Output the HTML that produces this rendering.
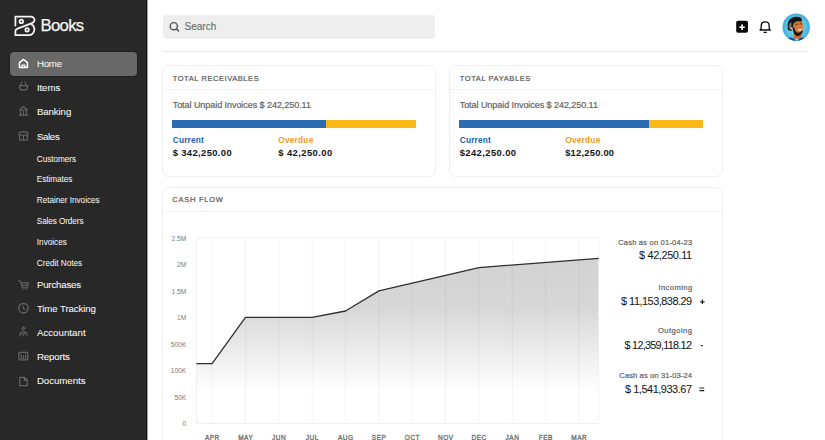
<!DOCTYPE html>
<html><head><meta charset="utf-8"><title>Books</title>
<style>
html,body{margin:0;padding:0;}
body{width:825px;height:440px;overflow:hidden;position:relative;background:#ffffff;font-family:"Liberation Sans",sans-serif;}
.t{position:absolute;white-space:nowrap;}
svg{overflow:visible}
</style></head><body>
<div style="position:absolute;left:0;top:0;width:147px;height:440px;background:#282828;"></div>
<div style="position:absolute;left:146px;top:0;width:1px;height:440px;background:#121212;"></div>
<div style="position:absolute;left:147px;top:0;width:1px;height:440px;background:#a0a0a0;"></div>
<svg style="position:absolute;left:0;top:0" width="147" height="50" viewBox="0 0 147 50">
<g fill="none" stroke="#f6f6f6" stroke-width="1.75" stroke-linecap="round" stroke-linejoin="round">
<path d="M15.4,25.6 L15.4,16.6 L30.6,16.6 C33.0,16.6 34.5,18.3 34.5,20.0 C34.5,21.5 33.6,22.5 32.0,23.1 L17.6,28.6 C16.2,29.1 15.4,30.0 15.4,31.2 L15.4,35.2 L28.6,35.2 C31.9,35.2 34.4,32.6 34.4,29.6 C34.4,27.3 33.3,25.3 31.4,24.3"/>
<circle cx="21.3" cy="21.4" r="1.75"/>
<circle cx="27.1" cy="29.8" r="1.75"/>
</g></svg>
<div class="t" style="left:40.60px;top:18.00px;font-size:16.72px;line-height:16.72px;color:#f4f4f4;letter-spacing:-0.714px;-webkit-text-stroke:0.25px #f4f4f4;">Books</div>
<div style="position:absolute;left:10px;top:52px;width:127px;height:24px;background:#686868;border-radius:4px;box-shadow:0 0 0 1px #1f1f1f;"></div>
<div class="t" style="left:36.90px;top:59.00px;font-size:9.70px;line-height:9.70px;color:#f4f4f4;letter-spacing:-0.212px;-webkit-text-stroke:0.08px #f4f4f4;">Home</div>
<div class="t" style="left:36.90px;top:83.00px;font-size:9.70px;line-height:9.70px;color:#f4f4f4;letter-spacing:-0.077px;-webkit-text-stroke:0.08px #f4f4f4;">Items</div>
<div class="t" style="left:36.90px;top:107.00px;font-size:9.70px;line-height:9.70px;color:#f4f4f4;letter-spacing:-0.104px;-webkit-text-stroke:0.08px #f4f4f4;">Banking</div>
<div class="t" style="left:36.90px;top:132.00px;font-size:9.70px;line-height:9.70px;color:#f4f4f4;letter-spacing:-0.345px;-webkit-text-stroke:0.08px #f4f4f4;">Sales</div>
<div class="t" style="left:36.90px;top:280.00px;font-size:9.70px;line-height:9.70px;color:#f4f4f4;letter-spacing:-0.195px;-webkit-text-stroke:0.08px #f4f4f4;">Purchases</div>
<div class="t" style="left:36.90px;top:304.00px;font-size:9.70px;line-height:9.70px;color:#f4f4f4;letter-spacing:-0.114px;-webkit-text-stroke:0.08px #f4f4f4;">Time Tracking</div>
<div class="t" style="left:36.90px;top:328.00px;font-size:9.70px;line-height:9.70px;color:#f4f4f4;letter-spacing:0.026px;-webkit-text-stroke:0.08px #f4f4f4;">Accountant</div>
<div class="t" style="left:36.90px;top:352.00px;font-size:9.70px;line-height:9.70px;color:#f4f4f4;letter-spacing:-0.147px;-webkit-text-stroke:0.08px #f4f4f4;">Reports</div>
<div class="t" style="left:36.90px;top:376.00px;font-size:9.70px;line-height:9.70px;color:#f4f4f4;letter-spacing:-0.041px;-webkit-text-stroke:0.08px #f4f4f4;">Documents</div>
<div class="t" style="left:36.80px;top:156.00px;font-size:8.20px;line-height:8.20px;color:#f0f0f0;letter-spacing:-0.028px;-webkit-text-stroke:0.05px #f0f0f0;">Customers</div>
<div class="t" style="left:36.80px;top:176.00px;font-size:8.20px;line-height:8.20px;color:#f0f0f0;letter-spacing:-0.037px;-webkit-text-stroke:0.05px #f0f0f0;">Estimates</div>
<div class="t" style="left:36.80px;top:197.00px;font-size:8.20px;line-height:8.20px;color:#f0f0f0;letter-spacing:-0.027px;-webkit-text-stroke:0.05px #f0f0f0;">Retainer Invoices</div>
<div class="t" style="left:36.80px;top:218.00px;font-size:8.20px;line-height:8.20px;color:#f0f0f0;letter-spacing:-0.098px;-webkit-text-stroke:0.05px #f0f0f0;">Sales Orders</div>
<div class="t" style="left:36.80px;top:239.00px;font-size:8.20px;line-height:8.20px;color:#f0f0f0;-webkit-text-stroke:0.05px #f0f0f0;">Invoices</div>
<div class="t" style="left:36.80px;top:260.00px;font-size:8.20px;line-height:8.20px;color:#f0f0f0;letter-spacing:-0.017px;-webkit-text-stroke:0.05px #f0f0f0;">Credit Notes</div>
<svg style="position:absolute;left:0;top:0" width="147" height="440" viewBox="0 0 147 440">
<g fill="none" stroke-linecap="round" stroke-linejoin="round">
<path d="M19.45,67.6 L19.45,62.6 L23.45,59.4 L27.45,62.6 L27.45,67.6 Z" stroke="#ffffff" stroke-width="1.5"/>
<path d="M22.1,67.6 L22.1,65.1 L24.8,65.1 L24.8,67.6" stroke="#ffffff" stroke-width="1.4"/>
<path d="M21.7,82.1 L20.7,84.9 M25.2,82.1 L26.2,84.9" stroke="#636363" stroke-width="1.25"/>
<path d="M19.4,85.7 L27.8,85.7 L26.6,89.8 L20.6,89.8 Z" stroke="#636363" stroke-width="1.25"/>
<path d="M19.5,110 L23.45,106.5 L27.4,110 Z" stroke="#636363" stroke-width="1.2"/>
<path d="M20.5,110.8 L20.5,114.6 M23.45,110.8 L23.45,114.6 M26.4,110.8 L26.4,114.6 M19.4,115.2 L27.5,115.2" stroke="#636363" stroke-width="1.2"/>
<path d="M19.9,131.9 L27.0,131.9 L28.3,134.4 Q26.9,135.9 25.45,134.7 Q23.45,136.1 21.45,134.7 Q20.0,135.9 18.6,134.4 Z" stroke="#636363" stroke-width="1.15"/>
<path d="M19.6,135.6 L19.6,140.1 L27.3,140.1 L27.3,135.6 M23.45,136.0 L23.45,140.1" stroke="#636363" stroke-width="1.15"/>
<path d="M18.6,280.7 L20.3,281.1 L22.5,287.9 L27.1,287.9 L28.5,282.9 L21.1,282.9 M21.9,285.4 L27.8,285.4" stroke="#636363" stroke-width="1.15"/>
<circle cx="23.1" cy="289.6" r="0.55" fill="#636363" stroke="none"/>
<circle cx="26.6" cy="289.6" r="0.55" fill="#636363" stroke="none"/>
<circle cx="23.45" cy="308.2" r="4.75" stroke="#636363" stroke-width="1.35"/>
<path d="M23.35,306.3 L23.45,308.5 L24.9,309.3" stroke="#636363" stroke-width="1.15"/>
<path d="M23.45,326.9 L24.95,328.4 L23.45,329.9 L21.95,328.4 Z" stroke="#636363" stroke-width="1.2"/>
<path d="M19.9,336 Q19.9,331.5 23.45,331.5 Q27.0,331.5 27.0,336 M22.3,333.3 L23.45,335.2 L24.7,333.0" stroke="#636363" stroke-width="1.2"/>
<rect x="18.85" y="352.45" width="9" height="7.4" rx="1" stroke="#636363" stroke-width="1.3"/>
<path d="M21.3,354.3 L21.3,358.9 M23.45,355.6 L23.45,358.9 M25.6,354.6 L25.6,358.9" stroke="#636363" stroke-width="1.1"/>
<path d="M19.75,377.4 L24.6,377.4 L27.35,380.2 L27.35,385.65 L19.75,385.65 Z M24.4,377.6 L24.4,380.4 L27.2,380.4" stroke="#636363" stroke-width="1.3"/>
</g></svg>
<div style="position:absolute;left:163px;top:15px;width:272px;height:24px;background:#eeeeee;border-radius:4px;"></div>
<svg style="position:absolute;left:0;top:0" width="825" height="60" viewBox="0 0 825 60">
<g fill="none" stroke="#555" stroke-linecap="round">
<circle cx="173.8" cy="26.2" r="3.6" stroke-width="1.4"/>
<path d="M176.5,28.9 L178.6,31" stroke-width="1.5"/>
</g>
<rect x="736.2" y="20.8" width="11.8" height="12" rx="1.8" fill="#0b0b0b"/>
<path d="M742.1,24.5 L742.1,30.0 M739.3,27.25 L744.8,27.25" stroke="#fff" stroke-width="1.7"/>
<g fill="none" stroke="#0b0b0b" stroke-width="1.3" stroke-linecap="round" stroke-linejoin="round">
<path d="M760.0,30.0 Q761.2,29.4 761.2,28.0 L761.2,25.9 Q761.2,21.9 765.2,21.9 Q769.2,21.9 769.2,25.9 L769.2,28.0 Q769.2,29.4 770.4,30.0 Z"/>
<path d="M764.0,32.3 L766.3,32.3" stroke-width="1.2"/>
</g>
</svg>
<div class="t" style="left:184.60px;top:22.00px;font-size:10.00px;line-height:10.00px;color:#6e6e6e;letter-spacing:-0.017px;-webkit-text-stroke:0.15px #6e6e6e;">Search</div>
<div style="position:absolute;left:162px;top:51px;width:646px;height:1px;background:#ececec;"></div>
<svg style="position:absolute;left:780px;top:11px" width="32" height="32" viewBox="0 0 32 32">
<defs><clipPath id="cc"><circle cx="16.2" cy="16.2" r="13.6"/></clipPath>
<radialGradient id="av" cx="0.5" cy="0.5" r="0.5"><stop offset="0" stop-color="#8ad8ee"/><stop offset="0.7" stop-color="#5cc3e4"/><stop offset="1" stop-color="#3eaed9"/></radialGradient></defs>
<circle cx="16.2" cy="16.2" r="13.7" fill="url(#av)"/>
<g clip-path="url(#cc)">
<path d="M3,32 Q5,27.6 10.5,26.4 Q16,28.4 21.5,26.4 Q27,27.6 29,32 Z" fill="#1a4f7d"/>
<path d="M13.4,26.6 L16.6,30.6 L19.8,26.8 Z" fill="#8fd3ec"/>
<path d="M13.8,21 L13.8,27.2 Q17,28.6 21.2,26.8 L21.2,21 Z" fill="#c96a30"/>
<path d="M12.6,14 Q12.8,9.4 17.6,9.2 Q22.8,9.4 23,15 Q23,21.5 20.8,23.8 Q18,25.4 15.4,24.2 Q12.6,21.5 12.6,14 Z" fill="#d27a3e"/>
<path d="M15.2,13.6 Q16.4,12.8 17.6,13.4 M19.6,13.0 Q20.8,12.4 21.8,13.0" stroke="#3a1e10" stroke-width="0.9" fill="none"/>
<path d="M12.8,16.5 Q13,23.6 17,24.9 Q21,25.4 22.8,20.5 L22.2,19.2 Q21,21.6 18.5,21.8 Q15,21.6 14.2,16.2 Z" fill="#1e1410"/>
<path d="M17.2,18.5 Q19.8,20.6 22.3,18.3 L21.9,17.5 Q19.6,18.7 17.2,18.5 Z" fill="#fafafa"/>
<path d="M8,19 Q6.8,12 9.5,8.6 Q12.5,5.4 16.8,5.8 Q20.8,5.6 21.8,8 Q22.5,10.6 21.2,10.6 Q17.6,9.6 14.8,11.2 Q13,12.6 12.8,16.4 L11.8,20 Z" fill="#171717"/>
<path d="M8.8,17 Q8.4,13 10.4,11.2 L11.8,12.4 Q10.8,14.8 11.2,18 Z" fill="#6a6a6a"/>
<ellipse cx="11.4" cy="17.4" rx="1.2" ry="1.7" fill="#e39a62"/>
</g></svg>
<div style="position:absolute;left:162.0px;top:65.0px;width:274.0px;height:111.5px;border:1px solid #efefef;border-radius:7px;box-sizing:border-box;background:#fff;"></div>
<div style="position:absolute;left:449.0px;top:65.0px;width:274.0px;height:111.5px;border:1px solid #efefef;border-radius:7px;box-sizing:border-box;background:#fff;"></div>
<div style="position:absolute;left:162.0px;top:186.5px;width:561.0px;height:300.0px;border:1px solid #efefef;border-radius:7px;box-sizing:border-box;background:#fff;"></div>
<div style="position:absolute;left:163px;top:89px;width:272px;height:1px;background:#f2f2f2;"></div>
<div style="position:absolute;left:450px;top:89px;width:272px;height:1px;background:#f2f2f2;"></div>
<div style="position:absolute;left:163px;top:211px;width:559px;height:1px;background:#f2f2f2;"></div>
<div class="t" style="left:172.70px;top:75.00px;font-size:7.50px;line-height:7.50px;color:#555555;letter-spacing:0.573px;-webkit-text-stroke:0.2px #555555;">TOTAL RECEIVABLES</div>
<div class="t" style="left:172.70px;top:101.00px;font-size:9.00px;line-height:9.00px;color:#636363;letter-spacing:-0.052px;-webkit-text-stroke:0.2px #636363;">Total Unpaid Invoices $ 242,250.11</div>
<div style="position:absolute;left:172.4px;top:120px;width:153.9px;height:8px;background:#2b6cb5;"></div>
<div style="position:absolute;left:326.3px;top:120px;width:90.1px;height:8px;background:#fbb817;"></div>
<div class="t" style="left:172.70px;top:136.00px;font-size:8.30px;line-height:8.30px;color:#2160b4;font-weight:bold;letter-spacing:0.204px;">Current</div>
<div class="t" style="left:278.20px;top:136.00px;font-size:8.30px;line-height:8.30px;color:#f39c1e;font-weight:bold;letter-spacing:0.238px;">Overdue</div>
<div class="t" style="left:172.70px;top:148.00px;font-size:9.40px;line-height:9.40px;color:#111;font-weight:bold;letter-spacing:0.384px;">$ 342,250.00</div>
<div class="t" style="left:278.20px;top:148.00px;font-size:9.40px;line-height:9.40px;color:#111;font-weight:bold;letter-spacing:0.445px;">$ 42,250.00</div>
<div class="t" style="left:459.70px;top:75.00px;font-size:7.50px;line-height:7.50px;color:#555555;letter-spacing:0.600px;-webkit-text-stroke:0.2px #555555;">TOTAL PAYABLES</div>
<div class="t" style="left:459.70px;top:101.00px;font-size:9.00px;line-height:9.00px;color:#636363;letter-spacing:-0.052px;-webkit-text-stroke:0.2px #636363;">Total Unpaid Invoices $ 242,250.11</div>
<div style="position:absolute;left:459.4px;top:120px;width:189.7px;height:8px;background:#2b6cb5;"></div>
<div style="position:absolute;left:649.1px;top:120px;width:54.3px;height:8px;background:#fbb817;"></div>
<div class="t" style="left:459.70px;top:136.00px;font-size:8.30px;line-height:8.30px;color:#2160b4;font-weight:bold;letter-spacing:0.204px;">Current</div>
<div class="t" style="left:565.20px;top:136.00px;font-size:8.30px;line-height:8.30px;color:#f39c1e;font-weight:bold;letter-spacing:0.238px;">Overdue</div>
<div class="t" style="left:459.70px;top:148.00px;font-size:9.40px;line-height:9.40px;color:#111;font-weight:bold;letter-spacing:0.423px;">$242,250.00</div>
<div class="t" style="left:565.20px;top:148.00px;font-size:9.40px;line-height:9.40px;color:#111;font-weight:bold;letter-spacing:0.218px;">$12,250.00</div>
<div class="t" style="left:172.30px;top:196.00px;font-size:7.50px;line-height:7.50px;color:#555555;letter-spacing:0.752px;-webkit-text-stroke:0.2px #555555;">CASH FLOW</div>
<svg style="position:absolute;left:0;top:0" width="825" height="440" viewBox="0 0 825 440">
<defs><linearGradient id="ga" x1="0" y1="0" x2="0" y2="1" gradientUnits="objectBoundingBox"><stop offset="0" stop-color="#d3d2d2"/><stop offset="0.3" stop-color="#d8d7d7"/><stop offset="0.8" stop-color="#ffffff"/><stop offset="1" stop-color="#ffffff"/></linearGradient></defs>
<path d="M196.40,423.50 L196.40,363.60 L212.10,363.60 L245.45,317.40 L312.15,317.40 L345.50,311.00 L378.85,290.90 L478.90,267.60 L598.70,258.30 L598.70,423.50 Z" fill="url(#ga)"/>
<rect x="196.40" y="238.00" width="402.30" height="185.50" fill="none" stroke="#ededed" stroke-width="0.8"/>
<line x1="212.10" y1="238.00" x2="212.10" y2="423.50" stroke="#000" stroke-opacity="0.055" stroke-width="0.8"/>
<line x1="245.45" y1="238.00" x2="245.45" y2="423.50" stroke="#000" stroke-opacity="0.055" stroke-width="0.8"/>
<line x1="278.80" y1="238.00" x2="278.80" y2="423.50" stroke="#000" stroke-opacity="0.055" stroke-width="0.8"/>
<line x1="312.15" y1="238.00" x2="312.15" y2="423.50" stroke="#000" stroke-opacity="0.055" stroke-width="0.8"/>
<line x1="345.50" y1="238.00" x2="345.50" y2="423.50" stroke="#000" stroke-opacity="0.055" stroke-width="0.8"/>
<line x1="378.85" y1="238.00" x2="378.85" y2="423.50" stroke="#000" stroke-opacity="0.055" stroke-width="0.8"/>
<line x1="412.20" y1="238.00" x2="412.20" y2="423.50" stroke="#000" stroke-opacity="0.055" stroke-width="0.8"/>
<line x1="445.55" y1="238.00" x2="445.55" y2="423.50" stroke="#000" stroke-opacity="0.055" stroke-width="0.8"/>
<line x1="478.90" y1="238.00" x2="478.90" y2="423.50" stroke="#000" stroke-opacity="0.055" stroke-width="0.8"/>
<line x1="512.25" y1="238.00" x2="512.25" y2="423.50" stroke="#000" stroke-opacity="0.055" stroke-width="0.8"/>
<line x1="545.60" y1="238.00" x2="545.60" y2="423.50" stroke="#000" stroke-opacity="0.055" stroke-width="0.8"/>
<line x1="578.95" y1="238.00" x2="578.95" y2="423.50" stroke="#000" stroke-opacity="0.055" stroke-width="0.8"/>
<polyline points="196.40,363.60 212.10,363.60 245.45,317.40 312.15,317.40 345.50,311.00 378.85,290.90 478.90,267.60 598.70,258.30" fill="none" stroke="#2e2e2e" stroke-width="1.3" stroke-linejoin="round"/>
</svg>
<div class="t" style="left:182.53px;top:421.00px;font-size:6.60px;line-height:6.60px;color:#7a7a7a;">0</div>
<div class="t" style="left:174.46px;top:395.00px;font-size:6.60px;line-height:6.60px;color:#7a7a7a;">50K</div>
<div class="t" style="left:170.79px;top:368.00px;font-size:6.60px;line-height:6.60px;color:#7a7a7a;">100K</div>
<div class="t" style="left:170.79px;top:342.00px;font-size:6.60px;line-height:6.60px;color:#7a7a7a;">500K</div>
<div class="t" style="left:177.03px;top:315.00px;font-size:6.60px;line-height:6.60px;color:#7a7a7a;">1M</div>
<div class="t" style="left:171.53px;top:289.00px;font-size:6.60px;line-height:6.60px;color:#7a7a7a;">1.5M</div>
<div class="t" style="left:177.03px;top:262.00px;font-size:6.60px;line-height:6.60px;color:#7a7a7a;">2M</div>
<div class="t" style="left:171.53px;top:236.00px;font-size:6.60px;line-height:6.60px;color:#7a7a7a;">2.5M</div>
<div class="t" style="left:204.92px;top:435.00px;font-size:6.50px;line-height:6.50px;color:#6e6e6e;letter-spacing:0.500px;-webkit-text-stroke:0.3px #6e6e6e;">APR</div>
<div class="t" style="left:238.15px;top:435.00px;font-size:6.50px;line-height:6.50px;color:#6e6e6e;letter-spacing:0.500px;-webkit-text-stroke:0.3px #6e6e6e;">MAY</div>
<div class="t" style="left:271.98px;top:435.00px;font-size:6.50px;line-height:6.50px;color:#6e6e6e;letter-spacing:0.500px;-webkit-text-stroke:0.3px #6e6e6e;">JUN</div>
<div class="t" style="left:305.87px;top:435.00px;font-size:6.50px;line-height:6.50px;color:#6e6e6e;letter-spacing:0.500px;-webkit-text-stroke:0.3px #6e6e6e;">JUL</div>
<div class="t" style="left:337.96px;top:435.00px;font-size:6.50px;line-height:6.50px;color:#6e6e6e;letter-spacing:0.500px;-webkit-text-stroke:0.3px #6e6e6e;">AUG</div>
<div class="t" style="left:371.85px;top:435.00px;font-size:6.50px;line-height:6.50px;color:#6e6e6e;letter-spacing:0.500px;-webkit-text-stroke:0.3px #6e6e6e;">SEP</div>
<div class="t" style="left:404.84px;top:435.00px;font-size:6.50px;line-height:6.50px;color:#6e6e6e;letter-spacing:0.500px;-webkit-text-stroke:0.3px #6e6e6e;">OCT</div>
<div class="t" style="left:438.01px;top:435.00px;font-size:6.50px;line-height:6.50px;color:#6e6e6e;letter-spacing:0.500px;-webkit-text-stroke:0.3px #6e6e6e;">NOV</div>
<div class="t" style="left:471.54px;top:435.00px;font-size:6.50px;line-height:6.50px;color:#6e6e6e;letter-spacing:0.500px;-webkit-text-stroke:0.3px #6e6e6e;">DEC</div>
<div class="t" style="left:505.61px;top:435.00px;font-size:6.50px;line-height:6.50px;color:#6e6e6e;letter-spacing:0.500px;-webkit-text-stroke:0.3px #6e6e6e;">JAN</div>
<div class="t" style="left:538.78px;top:435.00px;font-size:6.50px;line-height:6.50px;color:#6e6e6e;letter-spacing:0.500px;-webkit-text-stroke:0.3px #6e6e6e;">FEB</div>
<div class="t" style="left:571.23px;top:435.00px;font-size:6.50px;line-height:6.50px;color:#6e6e6e;letter-spacing:0.500px;-webkit-text-stroke:0.3px #6e6e6e;">MAR</div>
<div class="t" style="left:618.20px;top:239.00px;font-size:7.60px;line-height:7.60px;color:#626262;letter-spacing:0.168px;-webkit-text-stroke:0.2px #626262;">Cash as on 01-04-23</div>
<div class="t" style="left:639.10px;top:250.00px;font-size:10.90px;line-height:10.90px;color:#151515;letter-spacing:-0.367px;-webkit-text-stroke:0.05px #151515;">$ 42,250.11</div>
<div class="t" style="left:658.40px;top:284.00px;font-size:7.60px;line-height:7.60px;color:#626262;letter-spacing:0.423px;-webkit-text-stroke:0.2px #626262;">Incoming</div>
<div class="t" style="left:621.00px;top:296.00px;font-size:10.90px;line-height:10.90px;color:#151515;letter-spacing:-0.484px;-webkit-text-stroke:0.05px #151515;">$ 11,153,838.29</div>
<div class="t" style="left:657.90px;top:327.00px;font-size:7.60px;line-height:7.60px;color:#626262;letter-spacing:0.465px;-webkit-text-stroke:0.2px #626262;">Outgoing</div>
<div class="t" style="left:624.50px;top:340.00px;font-size:10.90px;line-height:10.90px;color:#151515;letter-spacing:-0.749px;-webkit-text-stroke:0.05px #151515;">$ 12,359,118.12</div>
<div class="t" style="left:619.30px;top:372.00px;font-size:7.60px;line-height:7.60px;color:#626262;letter-spacing:0.096px;-webkit-text-stroke:0.2px #626262;">Cash as on 31-03-24</div>
<div class="t" style="left:625.00px;top:384.00px;font-size:10.90px;line-height:10.90px;color:#151515;letter-spacing:-0.441px;-webkit-text-stroke:0.05px #151515;">$ 1,541,933.67</div>
<svg style="position:absolute;left:0;top:0" width="825" height="440" viewBox="0 0 825 440"><g stroke="#222" stroke-width="1.2"><path d="M700.2,301.8 L704.6,301.8 M702.4,299.6 L702.4,304"/><path d="M700.8,345.6 L702.8,345.6"/><path d="M699.4,388 L704.2,388 M699.4,390.6 L704.2,390.6"/></g></svg>
</body></html>
